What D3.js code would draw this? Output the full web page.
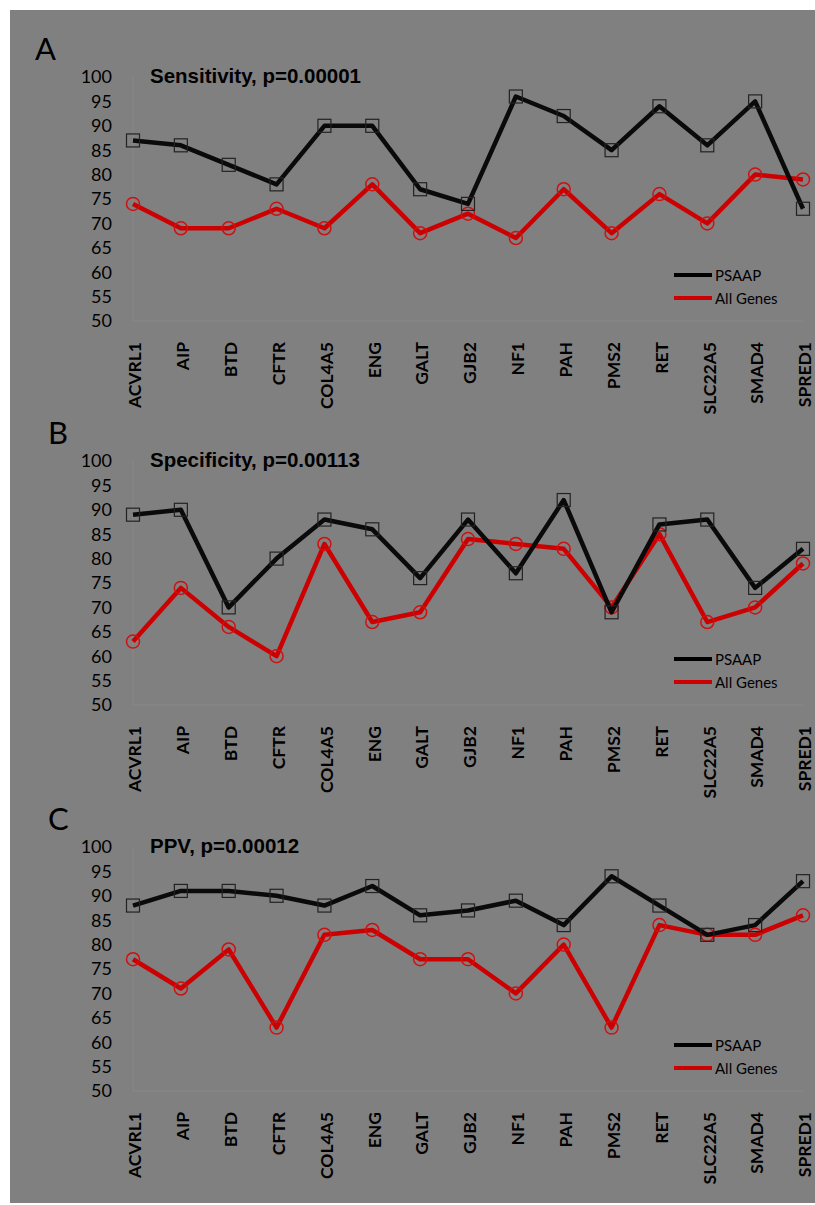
<!DOCTYPE html>
<html><head><meta charset="utf-8">
<script src="https://cdn.jsdelivr.net/npm/d3@7"></script>
<style>html,body{margin:0;padding:0;background:#fff}</style>
</head><body>
<script>
const genes = ["ACVRL1","AIP","BTD","CFTR","COL4A5","ENG","GALT","GJB2","NF1","PAH","PMS2","RET","SLC22A5","SMAD4","SPRED1"];
const yTicks = [50,55,60,65,70,75,80,85,90,95,100];
const panelLetters = ["A","B","C"];
const panelTitles = ["Sensitivity, p=0.00001","Specificity, p=0.00113","PPV, p=0.00012"];
const seriesNames = ["PSAAP","All Genes"];
const sensPSAAP = [87,86,82,78,90,90,77,74,96,92,85,94,86,95,73];
const sensAll   = [74,69,69,73,69,78,68,72,67,77,68,76,70,80,79];
const specPSAAP = [89,90,70,80,88,86,76,88,77,92,69,87,88,74,82];
const specAll   = [63,74,66,60,83,67,69,84,83,82,70,85,67,70,79];
const ppvPSAAP  = [88,91,91,90,88,92,86,87,89,84,94,88,82,84,93];
const ppvAll    = [77,71,79,63,82,83,77,77,70,80,63,84,82,82,86];
const panels = [
  {psaap: sensPSAAP, all: sensAll},
  {psaap: specPSAAP, all: specAll},
  {psaap: ppvPSAAP, all: ppvAll}
];

const W = 815, H = 1205;
const svg = d3.select("body").append("svg").attr("width", W).attr("height", H);
svg.append("rect").attr("x",10).attr("y",10).attr("width",805).attr("height",1193).attr("fill","#808080");

const x = d3.scalePoint().domain(genes).range([133, 803]);
const offsets = [0, 384, 770];
const RED = "#cc0000";

panels.forEach((p, i) => {
  const off = offsets[i];
  const g = svg.append("g").attr("transform", `translate(0,${off})`);
  const y = d3.scaleLinear().domain([50,100]).range([321,77]);

  // faint plot frame/axis
  g.append("line").attr("x1",133).attr("x2",803).attr("y1",y(50)).attr("y2",y(50))
    .attr("stroke","#888").attr("stroke-width",1);
  g.append("line").attr("x1",133).attr("x2",133).attr("y1",y(100)).attr("y2",y(50))
    .attr("stroke","#878787").attr("stroke-width",1);

  // y tick labels
  g.selectAll("text.yt").data(yTicks).join("text").attr("class","yt")
    .attr("x",112).attr("y",d=>y(d)).attr("dy","0.36em")
    .attr("text-anchor","end").attr("font-family","Lato, 'Open Sans', sans-serif")
    .attr("font-size",18).attr("fill","#000").text(d=>d);

  // x labels
  g.selectAll("text.xt").data(genes).join("text").attr("class","xt")
    .attr("transform", d => `translate(${x(d)+2},${y(50)+21}) rotate(-90)`)
    .attr("dy","0.36em").attr("text-anchor","end")
    .attr("font-family","Lato, 'Open Sans', sans-serif").attr("font-weight","bold")
    .attr("font-size",17.5).attr("fill","#000").text(d=>d);

  // letter + title
  g.append("text").attr("x", i===0?35:48).attr("y",60)
    .attr("font-family","Lato, 'Open Sans', sans-serif").attr("font-size",31)
    .attr("fill","#000").text(panelLetters[i]);
  g.append("text").attr("x",150).attr("y",83)
    .attr("font-family","'Liberation Sans', Arial, sans-serif").attr("font-weight","bold")
    .attr("font-size",20.5).attr("fill","#000").text(panelTitles[i]);

  const line = d3.line().x((d,j)=>x(genes[j])).y(d=>y(d));

  // All Genes (red)
  g.append("path").attr("d", line(p.all)).attr("fill","none")
    .attr("stroke",RED).attr("stroke-width",4.5).attr("stroke-linejoin","round");
  g.selectAll("circle.m").data(p.all).join("circle").attr("class","m")
    .attr("cx",(d,j)=>x(genes[j])).attr("cy",d=>y(d)).attr("r",6.5)
    .attr("fill","none").attr("stroke","#d01010").attr("stroke-width",1.5);

  // PSAAP (black)
  g.append("path").attr("d", line(p.psaap)).attr("fill","none")
    .attr("stroke","#0a0a0a").attr("stroke-width",4.5).attr("stroke-linejoin","round");
  g.selectAll("rect.m").data(p.psaap).join("rect").attr("class","m")
    .attr("x",(d,j)=>x(genes[j])-6.5).attr("y",d=>y(d)-6.5)
    .attr("width",13).attr("height",13)
    .attr("fill","none").attr("stroke","#222").attr("stroke-width",1.2);

  // legend
  const lg = g.append("g");
  const items = [{name: seriesNames[0], color:"#000", ly:275},{name: seriesNames[1], color:RED, ly:298}];
  items.forEach(it => {
    lg.append("line").attr("x1",674).attr("x2",712).attr("y1",it.ly).attr("y2",it.ly)
      .attr("stroke",it.color).attr("stroke-width",4);
    lg.append("text").attr("x",715).attr("y",it.ly).attr("dy","0.38em")
      .attr("font-family","Lato, 'Open Sans', sans-serif").attr("font-size",15)
      .attr("fill","#000").text(it.name);
  });
});
</script>
</body></html>
